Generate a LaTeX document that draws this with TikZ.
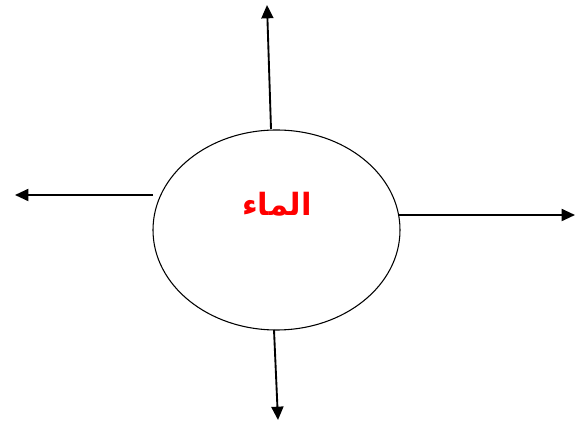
\documentclass[tikz,border=0pt]{standalone}
\usepackage{fontspec}
\newfontfamily\arabicfont[Script=Arabic]{DejaVu Sans}
\TeXXeTstate=1
\usetikzlibrary{arrows.meta,shapes.geometric}

\begin{document}
\begin{tikzpicture}[x=0.75pt,y=-0.75pt,
every node/.style={inner sep=0pt},
flow/.style={draw,line width=1.4pt,-{Triangle[length=10pt,width=9pt]}}]
\useasboundingbox (0,0) rectangle (575,427);
\node[draw,ellipse,line width=0.8pt,minimum width=247*0.75pt,minimum height=200*0.75pt] (water) at (276.5,230) {};
\node[text=red,font=\arabicfont\bfseries\fontsize{23}{26}\selectfont] (label) at (277,204) {\beginR الماء\endR};
% free ends
\coordinate (up0) at (271,129);
\coordinate (up1) at (267,5);
\coordinate (lt0) at (153,195);
\coordinate (lt1) at (15,195);
\coordinate (rt0) at (398,215);
\coordinate (rt1) at (575,215);
\coordinate (dn0) at (274,330);
\coordinate (dn1) at (278,420);
\draw[flow] (up0) -- (up1);
\draw[flow] (lt0) -- (lt1);
\draw[flow] (rt0) -- (rt1);
\draw[flow] (dn0) -- (dn1);
\end{tikzpicture}
\end{document}
